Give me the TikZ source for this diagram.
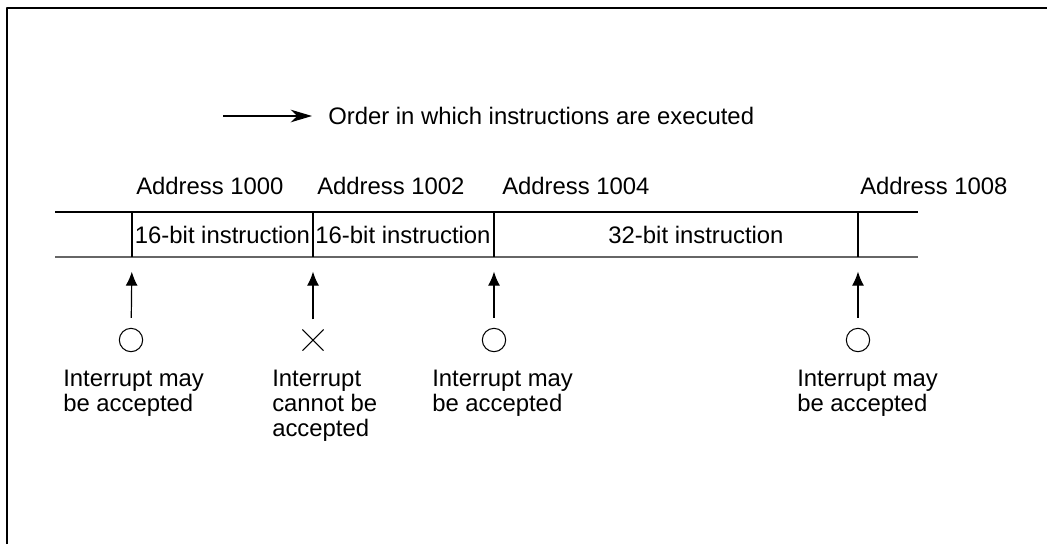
\documentclass[tikz,border=0pt]{standalone}
\usepackage{fontspec}
\setmainfont{Liberation Sans}
\usetikzlibrary{arrows.meta,shapes.misc}
\tikzset{
  lbl/.style={font=\fontsize{17.9}{18.75}\selectfont, inner sep=0pt},
  note/.style={lbl, align=left, anchor=north west},
  okmark/.style={circle, draw, line width=0.8pt, minimum size=17.5pt, inner sep=0pt},
  nomark/.style={cross out, draw, line width=0.8pt, minimum size=15pt, inner sep=0pt},
  uparrow/.style={-{Latex[length=10.5pt,width=9pt]}, line width=0.9pt, shorten <=7.5pt, shorten >=11pt}
}
\begin{document}
\begin{tikzpicture}[x=0.75pt, y=-0.75pt, line join=round]
  \useasboundingbox (0,0) rectangle (1047,544);
  % frame
  \draw[line width=1.6pt] (7,544) -- (7,8) -- (1047,8);
  % direction of execution
  \coordinate (d0) at (223,116);
  \node[lbl, anchor=west] (order) at (328,116) {Order in which instructions are executed};
  \draw[-{Stealth[length=16pt,width=9.5pt,inset=5pt]}, line width=0.9pt] (d0) -- ([xshift=-12pt]order.west);
  % addresses
  \node[lbl, anchor=base west] (a1000) at (136,194) {Address 1000};
  \node[lbl, anchor=base west] (a1002) at (317,194) {Address 1002};
  \node[lbl, anchor=base west] (a1004) at (502,194) {Address 1004};
  \node[lbl, anchor=base west] (a1008) at (860,194) {Address 1008};
  % instruction band
  \draw[line width=0.8pt] (55,212) -- (918,212);
  \draw[line width=0.8pt, black!60] (55,257) -- (918,257);
  \foreach \x/\n in {132/b1, 313/b2, 494/b3, 858/b4} {
    \draw[line width=0.8pt] (\x,212) -- (\x,257);
    \coordinate (\n) at (\x,257);
  }
  \node[lbl] (i1) at (222.5,235) {16-bit instruction};
  \node[lbl] (i2) at (403,235) {16-bit instruction};
  \node[lbl] (i3) at (696,235) {32-bit instruction};
  % interrupt points
  \node[okmark] (s1) at (131,340) {};
  \node[nomark] (s2) at (313,340) {};
  \node[okmark] (s3) at (494,340) {};
  \node[okmark] (s4) at (858,340) {};
  \draw[uparrow] (s1) -- (b1);
  \draw[uparrow] (s2) -- (b2);
  \draw[uparrow] (s3) -- (b3);
  \draw[uparrow] (s4) -- (b4);
  \node[note] (n1) at (63,370) {Interrupt may\\be accepted};
  \node[note] (n2) at (272,370) {Interrupt\\cannot be\\accepted};
  \node[note] (n3) at (432,370) {Interrupt may\\be accepted};
  \node[note] (n4) at (797,370) {Interrupt may\\be accepted};
\end{tikzpicture}
\end{document}
